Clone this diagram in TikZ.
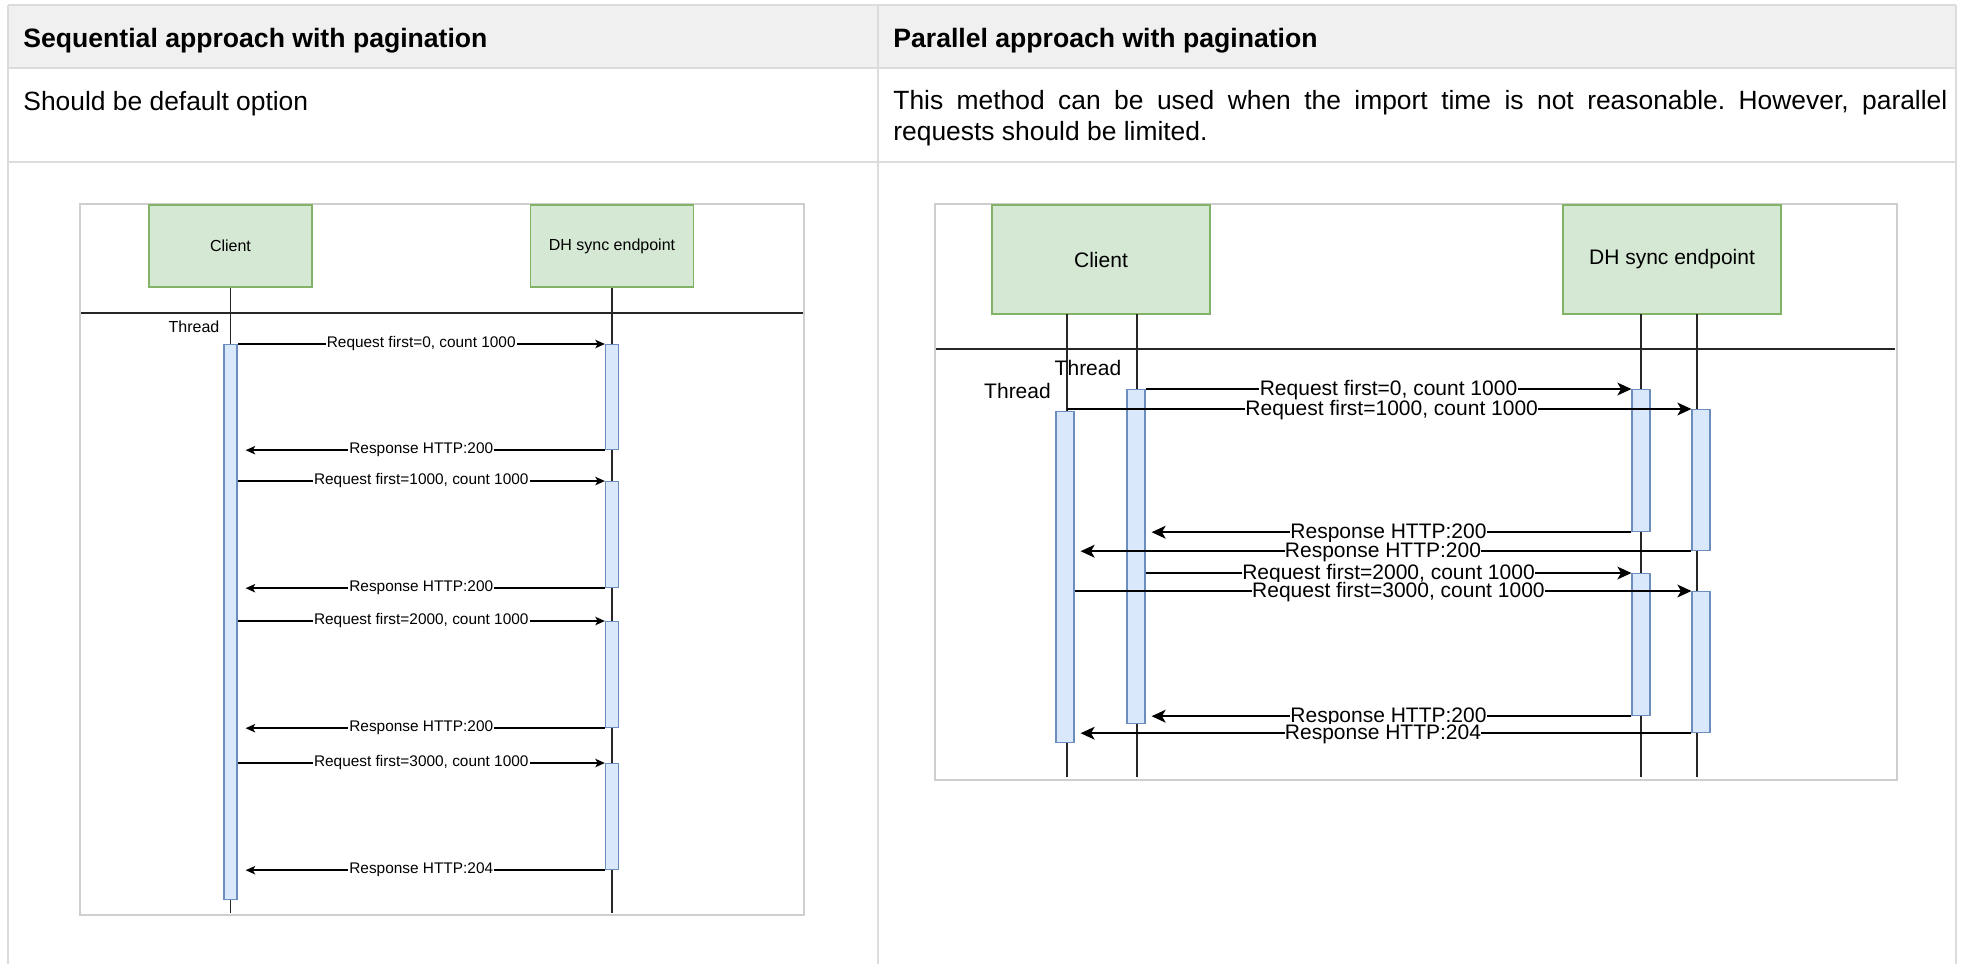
\documentclass[tikz,border=0pt]{standalone}
\usepackage{fontspec}
\setmainfont{Liberation Sans}
\usetikzlibrary{arrows.meta}
\definecolor{hdrfill}{HTML}{F0F0F0}
\definecolor{gridc}{HTML}{DCDCDC}
\definecolor{framec}{HTML}{CFCFCF}
\definecolor{gfill}{HTML}{D5E8D4}
\definecolor{gline}{HTML}{82B366}
\definecolor{bfill}{HTML}{DAE8FC}
\definecolor{bline}{HTML}{6C8EBF}
\tikzset{
  gridline/.style={draw=gridc, line width=1pt},
  framebox/.style={draw=framec, line width=1pt},
  sepline/.style={draw=black!85, line width=1pt},
  lifeline/.style={draw=black!85, line width=0.7pt},
  actorL/.style={draw=gline, fill=gfill, line width=0.6pt, minimum width=81.5pt, minimum height=41pt, font=\fontsize{8}{9}\selectfont, inner sep=0pt},
  actorR/.style={draw=gline, fill=gfill, line width=0.6pt, minimum width=109pt, minimum height=54.5pt, font=\fontsize{10.5}{12}\selectfont, inner sep=0pt},
  barL/.style={draw=bline, fill=bfill, line width=0.6pt, minimum width=6.5pt, anchor=north, inner sep=0pt},
  barR/.style={draw=bline, fill=bfill, line width=0.6pt, minimum width=9pt, anchor=north, inner sep=0pt},
  msgL/.style={draw=black, line width=0.75pt, -{Stealth[length=4.8pt,width=4.2pt,inset=1.2pt]}},
  msgR/.style={draw=black, line width=0.9pt, -{Stealth[length=7pt,width=6.4pt,inset=1.8pt]}},
  lblL/.style={fill=white, inner sep=0.6pt, font=\fontsize{7.7}{9}\selectfont},
  lblR/.style={fill=white, inner sep=0.2pt, text height=7.4pt, text depth=1pt, font=\fontsize{10.5}{12}\selectfont},
  tabtext/.style={font=\fontsize{13.2}{15.5}\selectfont, inner sep=0pt},
  tabhead/.style={font=\fontsize{13.3}{15.5}\selectfont\bfseries, inner sep=0pt},
}
\begin{document}
\begin{tikzpicture}[x=0.5pt, y=-0.5pt]
\useasboundingbox (0,0) rectangle (1964,964);
\fill[white] (0,0) rectangle (1964,964);

% ---------- table ----------
\fill[hdrfill] (8,5) rectangle (1956,68);
\draw[gridline] (8,5) -- (1956,5);
\draw[gridline] (8,68) -- (1956,68);
\draw[gridline] (8,162) -- (1956,162);
\draw[gridline] (8,5) -- (8,964);
\draw[gridline] (878,5) -- (878,964);
\draw[gridline] (1956,5) -- (1956,964);

\node[tabhead, anchor=base west] (h1) at (23,47) {Sequential approach with pagination};
\node[tabhead, anchor=base west] (h2) at (893,47) {Parallel approach with pagination};
\node[tabtext, anchor=base west] (t1) at (23,110) {Should be default option};
\node[tabtext, anchor=base west, text width=527pt, align=justify] (t2) at (893,109)
  {\frenchspacing\spaceskip=0.278em plus 0.4em minus 0pt\relax
   \hyphenpenalty=10000\tolerance=10000\relax This method can be used when the import time is not reasonable. However, parallel requests should be limited.};

% ---------- left (sequential) diagram ----------
\draw[framebox] (80,204) rectangle (804,915);
\coordinate (sepLa) at (81,313);
\coordinate (sepLb) at (803,313);
\draw[sepline] (sepLa) -- (sepLb);
\coordinate (lendL) at (0,913);

\node[actorL] (clientL) at (230.5,246) {Client};
\node[actorL] (dhL) at (612,246) {DH sync endpoint};
\draw[lifeline] (clientL.south) -- (clientL.south |- lendL);
\draw[lifeline] (dhL.south) -- (dhL.south |- lendL);

\node[font=\fontsize{8}{9}\selectfont, inner sep=0pt] (thrL) at (194,327) {Thread};

\node[barL, minimum height=277.5pt] (cbL) at (230.5,344) {};
\node[barL, minimum height=52.5pt] (db1) at (612,344) {};
\node[barL, minimum height=53pt] (db2) at (612,481) {};
\node[barL, minimum height=53pt] (db3) at (612,621) {};
\node[barL, minimum height=53pt] (db4) at (612,763) {};

\draw[msgL] (cbL.north east) -- node[lblL] {Request first=0, count 1000} (db1.north west);
\draw[msgL, shorten >=4pt] (db1.south west) -- node[lblL] {Response HTTP:200} (db1.south west -| cbL.east);
\draw[msgL] (cbL.east |- db2.north) -- node[lblL] {Request first=1000, count 1000} (db2.north west);
\draw[msgL, shorten >=4pt] (db2.south west) -- node[lblL] {Response HTTP:200} (db2.south west -| cbL.east);
\draw[msgL] (cbL.east |- db3.north) -- node[lblL] {Request first=2000, count 1000} (db3.north west);
\draw[msgL, shorten >=4pt] (db3.south west) -- node[lblL] {Response HTTP:200} (db3.south west -| cbL.east);
\draw[msgL] (cbL.east |- db4.north) -- node[lblL] {Request first=3000, count 1000} (db4.north west);
\draw[msgL, shorten >=4pt] (db4.south west) -- node[lblL] {Response HTTP:204} (db4.south west -| cbL.east);

% ---------- right (parallel) diagram ----------
\draw[framebox] (935,204) rectangle (1897,780);
\coordinate (sepRa) at (936,349);
\coordinate (sepRb) at (1895,349);
\draw[sepline] (sepRa) -- (sepRb);
\coordinate (lendR) at (0,777);

\node[actorR] (clientR) at (1101,259.5) {Client};
\node[actorR] (dhR) at (1672,259.5) {DH sync endpoint};
\coordinate (lc1) at (1067,314);
\coordinate (lc2) at (1137,314);
\coordinate (ld1) at (1641,314);
\coordinate (ld2) at (1697,314);
\draw[lifeline] (lc1) -- (lc1 |- lendR);
\draw[lifeline] (lc2) -- (lc2 |- lendR);
\draw[lifeline] (ld1) -- (ld1 |- lendR);
\draw[lifeline] (ld2) -- (ld2 |- lendR);

\node[font=\fontsize{10.5}{12}\selectfont, inner sep=0pt] (thrR2) at (1088,368) {Thread};
\node[font=\fontsize{10.5}{12}\selectfont, inner sep=0pt] (thrR1) at (1017.5,391) {Thread};

\node[barR, minimum height=167pt] (tb2) at (1136,389) {};
\node[barR, minimum height=165.5pt] (tb1) at (1065,411) {};
\node[barR, minimum height=71pt] (dA) at (1641,389) {};
\node[barR, minimum height=70.5pt] (dB) at (1701,409) {};
\node[barR, minimum height=71pt] (dC) at (1641,573) {};
\node[barR, minimum height=70.5pt] (dD) at (1701,591) {};

\draw[msgR] (tb2.north east) -- node[lblR] {Request first=0, count 1000} (dA.north west);
\draw[msgR] (lc1 |- dB.north) -- node[lblR, pos=0.52] {Request first=1000, count 1000} (dB.north west);
\draw[msgR, shorten >=3pt] (dA.south west) -- node[lblR] {Response HTTP:200} (dA.south west -| tb2.east);
\draw[msgR, shorten >=3pt] (dB.south west) -- node[lblR] {Response HTTP:200} (dB.south west -| tb1.east);
\draw[msgR] (tb2.east |- dC.north) -- node[lblR] {Request first=2000, count 1000} (dC.north west);
\draw[msgR] (tb1.east |- dD.north) -- node[lblR, pos=0.525] {Request first=3000, count 1000} (dD.north west);
\draw[msgR, shorten >=3pt] (dC.south west) -- node[lblR] {Response HTTP:200} (dC.south west -| tb2.east);
\draw[msgR, shorten >=3pt] (dD.south west) -- node[lblR] {Response HTTP:204} (dD.south west -| tb1.east);
\end{tikzpicture}
\end{document}
